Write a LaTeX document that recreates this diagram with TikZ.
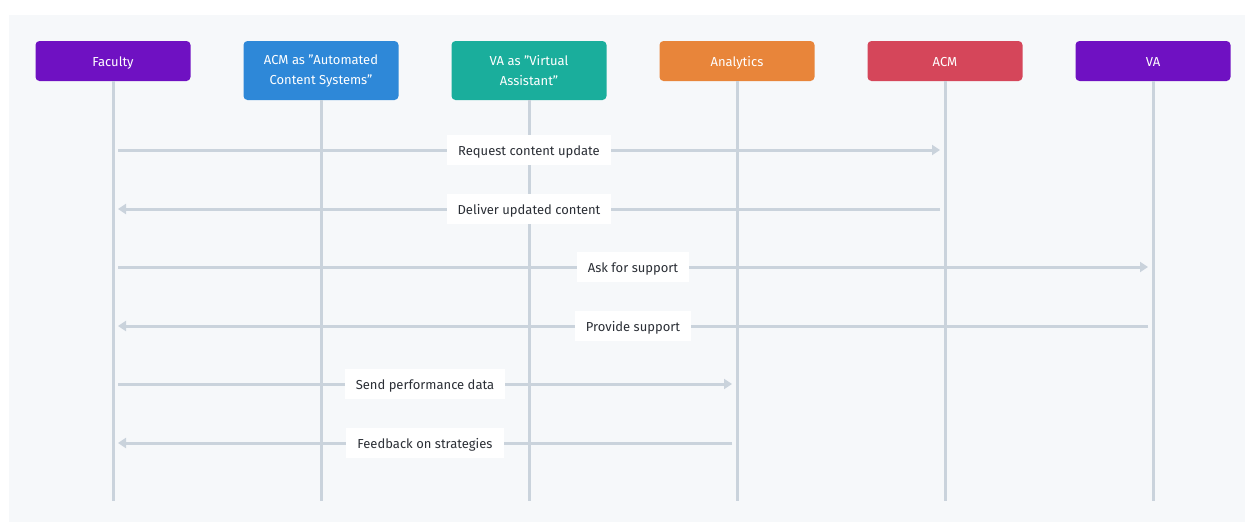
\documentclass[tikz,border=0pt]{standalone}
\usepackage{fontspec}
\setmainfont{Fira Sans}
\usetikzlibrary{arrows.meta}
\definecolor{panelbg}{HTML}{F6F8FA}
\definecolor{lifec}{HTML}{CAD3DC}
\definecolor{facultyc}{HTML}{6F11C2}
\definecolor{acmasc}{HTML}{2E88D8}
\definecolor{vaasc}{HTML}{1AAE9C}
\definecolor{analyticsc}{HTML}{E8853A}
\definecolor{acmc}{HTML}{D5465A}
\definecolor{textc}{HTML}{2B2F36}
\newcommand{\dq}{\symbol{34}}

\tikzset{
  actor/.style={rounded corners=4pt, minimum width=155, text=white, align=center,
    font=\fontsize{13}{20}\selectfont, inner sep=0pt},
  oneline/.style={minimum height=40, text height=11pt, text depth=1pt},
  twoline/.style={minimum height=59},
  life/.style={draw=lifec, line width=3pt},
  msg/.style={draw=lifec, line width=3pt, shorten <=5pt, shorten >=5pt},
  msgtip/.style={-{Triangle[length=8pt,width=10pt]}},
  msglabel/.style={fill=white, text=textc, minimum height=30, inner xsep=11pt,
    text height=11pt, text depth=1pt, font=\fontsize{13}{15}\selectfont}
}

\begin{document}
\begin{tikzpicture}[x=1pt,y=-1pt]
  \fill[white] (0,0) rectangle (1245,523);
  \fill[panelbg] (9,15) rectangle (1245,522);
  \useasboundingbox (0,0) rectangle (1245,523);

  % participants
  \node[actor, oneline, fill=facultyc] (fac) at (113,61) {Faculty};
  \node[actor, twoline, fill=acmasc] (acmas) at (321,70.5) {\raisebox{-1.5pt}{ACM as \dq Automated}\\\raisebox{-1.5pt}{Content Systems\dq}};
  \node[actor, twoline, fill=vaasc] (vaas) at (529,70.5) {\raisebox{-1.5pt}{VA as \dq Virtual}\\\raisebox{-1.5pt}{Assistant\dq}};
  \node[actor, oneline, fill=analyticsc] (ana) at (737,61) {Analytics};
  \node[actor, oneline, fill=acmc] (acm) at (945,61) {ACM};
  \node[actor, oneline, fill=facultyc] (va) at (1153,61) {VA};

  % lifelines
  \foreach \p in {fac,acmas,vaas,ana,acm,va} {
    \coordinate (\p end) at (\p.south |- 0,501);
    \draw[life] (\p.south) -- (\p end);
  }

  % messages
  \draw[msg,msgtip] (fac |- 0,150) -- node[msglabel] (l1) {Request content update} (acm |- 0,150);
  \draw[msg,msgtip] (acm |- 0,209) -- node[msglabel] (l2) {Deliver updated content} (fac |- 0,209);
  \draw[msg,msgtip] (fac |- 0,267) -- node[msglabel] (l3) {Ask for support} (va |- 0,267);
  \draw[msg,msgtip] (va |- 0,326) -- node[msglabel] (l4) {Provide support} (fac |- 0,326);
  \draw[msg,msgtip] (fac |- 0,384) -- node[msglabel] (l5) {Send performance data} (ana |- 0,384);
  \draw[msg,msgtip] (ana |- 0,443) -- node[msglabel] (l6) {Feedback on strategies} (fac |- 0,443);
\end{tikzpicture}
\end{document}
